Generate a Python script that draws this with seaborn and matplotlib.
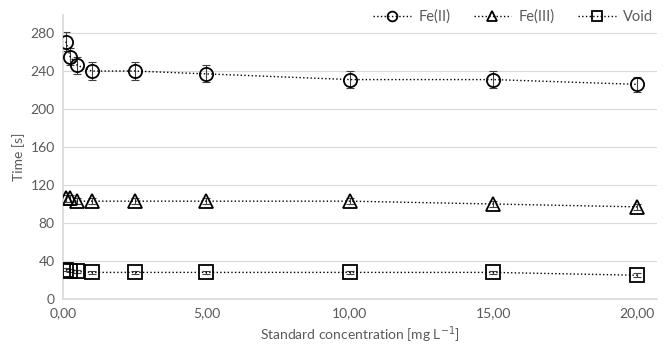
import matplotlib
matplotlib.use("Agg")
import matplotlib.pyplot as plt
import seaborn as sns
import pandas as pd
from matplotlib.ticker import FuncFormatter
from matplotlib.lines import Line2D

conc = [0.1, 0.25, 0.5, 1.0, 2.5, 5.0, 10.0, 15.0, 20.0]
fe2 = [271, 255, 246, 240, 240, 237, 231, 231, 226]
fe2_err = [10, 9, 9, 9, 9, 9, 9, 9, 8]
fe3 = [106, 106, 103, 103, 103, 103, 103, 100, 97]
fe3_err = [4, 4, 3, 3, 3, 3, 3, 3, 3]
void = [31, 30, 29, 28, 28, 28, 28, 28, 25]
void_err = [2, 2, 2, 2, 2, 2, 2, 2, 2]
series = ["Fe(II)", "Fe(III)", "Void"]
markers = {"Fe(II)": "o", "Fe(III)": "^", "Void": "s"}
yticks = [0, 40, 80, 120, 160, 200, 240, 280]
xticks = [0, 5, 10, 15, 20]

df = pd.DataFrame({
    "conc": conc * 3,
    "time": fe2 + fe3 + void,
    "err": fe2_err + fe3_err + void_err,
    "series": [s for s in series for _ in conc],
})

sns.set_theme(style="white")
plt.rcParams['font.family'] = ['Lato', 'DejaVu Sans']
txt = '#595959'

fig = plt.figure(figsize=(6.7, 3.44), dpi=100)
ax = fig.add_axes([63/670, 1-299/344, (657-63)/670, (299-15)/344])

sns.lineplot(data=df, x="conc", y="time", style="series", markers=markers,
             dashes=False, color='black', linewidth=1.0,
             markersize=9.5, markerfacecolor='none', markeredgecolor='black',
             markeredgewidth=1.3, ax=ax, legend=False, zorder=3, sort=False)
for ln in list(ax.lines):
    ln.set_linestyle(':')

for s in series:
    d = df[df.series == s]
    ax.errorbar(d.conc, d.time, yerr=d.err, fmt='none', ecolor='#404040',
                elinewidth=0.8, capsize=3, capthick=0.8, zorder=2)

ax.set_xlim(0, 20.7)
ax.set_ylim(0, 299)
ax.set_xticks(xticks)
ax.set_yticks(yticks)
ax.xaxis.set_major_formatter(FuncFormatter(lambda v, p: f"{v:.2f}".replace('.', ',')))
ax.grid(axis='y', color='#d9d9d9', linewidth=0.8)
ax.set_axisbelow(True)
for side in ['top', 'right']:
    ax.spines[side].set_visible(False)
ax.spines['left'].set_color('#d9d9d9')
ax.spines['bottom'].set_color('#d9d9d9')
ax.tick_params(axis='both', colors=txt, labelsize=10, length=0, pad=6)
ax.set_xlabel("Standard concentration [mg L$^{-1}$]", color=txt, fontsize=10)
ax.set_ylabel("Time [s]", color=txt, fontsize=10)

handles = [Line2D([], [], color='black', linestyle=':', linewidth=1.0,
                  marker=markers[s], markersize=7, markerfacecolor='none',
                  markeredgecolor='black', markeredgewidth=1.3) for s in series]
leg = fig.legend(handles, series, loc='upper right', bbox_to_anchor=(0.995, 1.01),
                 ncol=3, frameon=False, fontsize=10.5, handlelength=2.6,
                 columnspacing=1.6, handletextpad=0.5)
for t in leg.get_texts():
    t.set_color(txt)

fig.savefig("out.png", dpi=100)
